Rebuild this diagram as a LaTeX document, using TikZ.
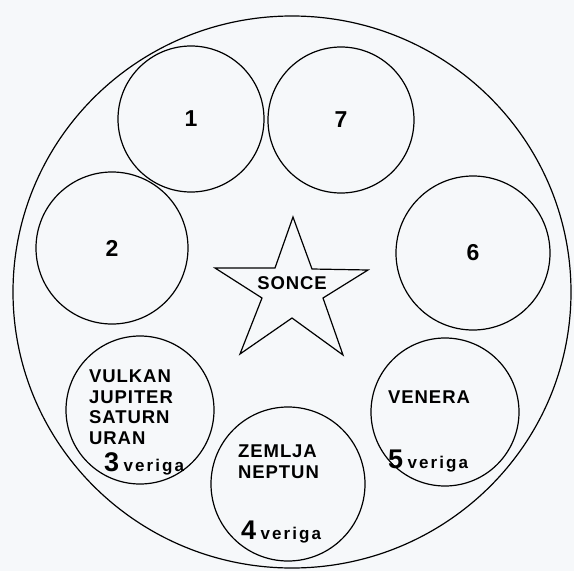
\documentclass[tikz,border=0pt]{standalone}
\usepackage{fontspec}
\setmainfont{Liberation Sans}
\newfontfamily\capsfont[LetterSpace=5]{Liberation Sans}
\newfontfamily\lowfont[LetterSpace=12]{Liberation Sans}
\usetikzlibrary{positioning}
\definecolor{papir}{RGB}{246,248,250}

\begin{document}
\begin{tikzpicture}[
  x=1pt, y=-1pt,
  every node/.style={font=\bfseries, inner sep=0pt},
  krog/.style={
    circle, draw=black, line width=1.2pt,
    minimum size=#1, font=\fontsize{23}{25}\selectfont\bfseries
  },
  velik/.style={draw=black, line width=1.2pt},
  zvezda/.style={draw=black, line width=1.2pt, line join=miter},
  imena/.style={
    anchor=north west, align=left,
    font=\fontsize{18.5}{20.5}\selectfont\capsfont\bfseries
  },
  veriga/.style={anchor=north west}
]

\fill[papir] (0,0) rectangle (574,571);
\useasboundingbox (0,0) rectangle (574,571);

\draw[velik] (292,292) ellipse [x radius=279, y radius=276];

\node[krog=146pt] (k1) at (191,119) {1};
\node[krog=146pt] (k7) at (341,120) {7};
\node[krog=152pt] (k2) at (112,248) {2};
\node[krog=154pt] (k6) at (473,253) {6};
\node[krog=148pt] (k3) at (140,410) {};
\node[krog=148pt] (k5) at (445,412) {};
\node[krog=154pt] (k4) at (288,484) {};

\draw[zvezda] (293,217) -- (312,269) -- (368,270) -- (323,298) -- (343,355)
  -- (292,318) -- (240,354) -- (262,298) -- (215,268) -- (275,268) -- cycle;
\node[font=\fontsize{18.5}{20}\selectfont\capsfont\bfseries] (sonce) at (292,283) {SONCE};

\node[imena] (p3) at (89,370) {VULKAN\\JUPITER\\SATURN\\URAN};
\node[veriga, below right=8pt and 15pt of p3.south west]
  (v3) {\fontsize{27}{27}\selectfont 3\,\fontsize{17}{17}\selectfont\lowfont\bfseries veriga};

\node[imena] (p4) at (238,445) {ZEMLJA\\NEPTUN};
\node[veriga] (v4) at (241,521)
  {\fontsize{27}{27}\selectfont 4\,\fontsize{17}{17}\selectfont\lowfont\bfseries veriga};

\node[imena] (p5) at (388,391) {VENERA};
\node[veriga] (v5) at (388,450)
  {\fontsize{27}{27}\selectfont 5\,\fontsize{17}{17}\selectfont\lowfont\bfseries veriga};

\end{tikzpicture}
\end{document}
